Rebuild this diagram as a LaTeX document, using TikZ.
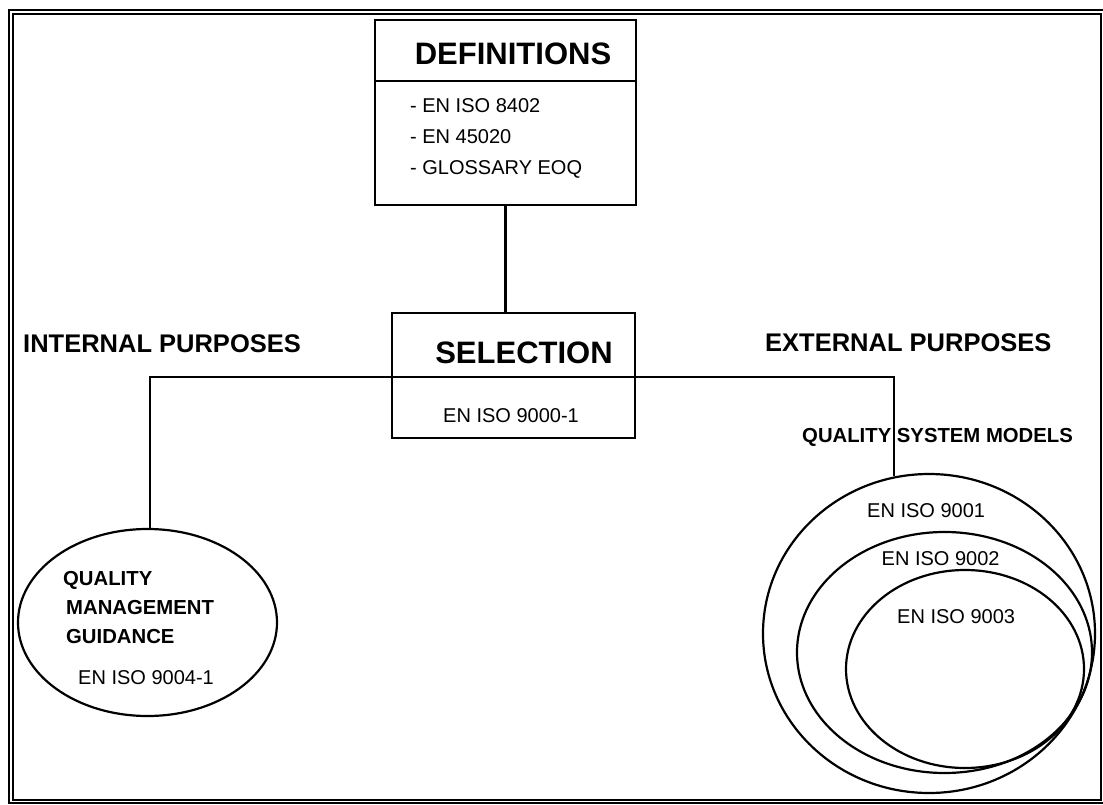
\documentclass[tikz,border=0pt]{standalone}
\usepackage{fontspec}
\setmainfont{Liberation Sans}
\usetikzlibrary{shapes.geometric}
\begin{document}
\begin{tikzpicture}[x=1pt,y=-1pt,
  frame/.style={line width=2pt},
  boxline/.style={draw,line width=2.2pt,inner sep=0pt},
  conn/.style={line width=2.2pt},
  oval/.style={draw,ellipse,line width=2.2pt,inner sep=0pt},
  bigtitle/.style={font=\fontsize{31}{36}\selectfont\bfseries,inner sep=0pt,anchor=base},
  purpose/.style={font=\fontsize{25.5}{30}\selectfont\bfseries,inner sep=0pt,anchor=base west},
  boldlabel/.style={font=\fontsize{20.3}{24}\selectfont\bfseries,inner sep=0pt,anchor=base west},
  plain/.style={font=\fontsize{20}{24}\selectfont,inner sep=0pt,anchor=base west}]
\useasboundingbox (0,0) rectangle (1103,805);

% double frame round the page
\draw[frame] (8.5,10.3) rectangle (1106,803);
\draw[frame] (12.5,14) rectangle (1101,800);

% DEFINITIONS box
\node[boxline,minimum width=261pt,minimum height=185pt] (defs) at (505.5,112.5) {};
\draw[conn] (defs.west |- 0,81) coordinate (defsl) -- (defs.east |- 0,81) coordinate (defsr);
\node[bigtitle] (defstitle) at (513,65) {DEFINITIONS};
\node[plain] (def1) at (410,113) {- EN ISO 8402};
\node[plain] (def2) at (410,144) {- EN 45020};
\node[plain] (def3) at (410,175) {- GLOSSARY EOQ};

% SELECTION box
\node[boxline,minimum width=243pt,minimum height=125pt] (sel) at (513.5,375.5) {};
\node[bigtitle] (seltitle) at (524,363) {SELECTION};
\node[plain,anchor=base] (selstd) at (511,422) {EN ISO 9000-1};

% side headings
\node[purpose] (internal) at (23,352) {INTERNAL PURPOSES};
\node[purpose] (external) at (765,351) {EXTERNAL PURPOSES};
\node[boldlabel] (qsm) at (802,442) {QUALITY SYSTEM MODELS};

% internal branch: guidance ellipse
\node[oval,minimum width=259pt,minimum height=187pt] (guide) at (147.5,622.5) {};
\node[boldlabel] (g1) at (63,585) {QUALITY};
\node[boldlabel] (g2) at (66,614) {MANAGEMENT};
\node[boldlabel] (g3) at (66,643) {GUIDANCE};
\node[plain] (g4) at (78,684) {EN ISO 9004-1};

% external branch: nested models
\node[oval,minimum width=332pt,minimum height=319pt] (m1) at (929,633.5) {};
\node[oval,minimum width=295pt,minimum height=241pt] (m2) at (944.5,652.5) {};
\node[oval,minimum width=238pt,minimum height=198pt] (m3) at (965,669) {};
\node[plain] (m1t) at (867,517) {EN ISO 9001};
\node[plain] (m2t) at (881.5,565) {EN ISO 9002};
\node[plain] (m3t) at (897,623) {EN ISO 9003};

% connectors
\coordinate (ljoin) at (150,377);
\coordinate (rjoin) at (894,377);
\coordinate (rfoot) at (894,476);
\coordinate (lfoot) at (150,528.5);
\draw[conn] (defs.south) -- (defs.south |- sel.north);
\draw[conn] (lfoot) -- (ljoin) -- (rjoin) -- (rfoot);
\end{tikzpicture}
\end{document}
